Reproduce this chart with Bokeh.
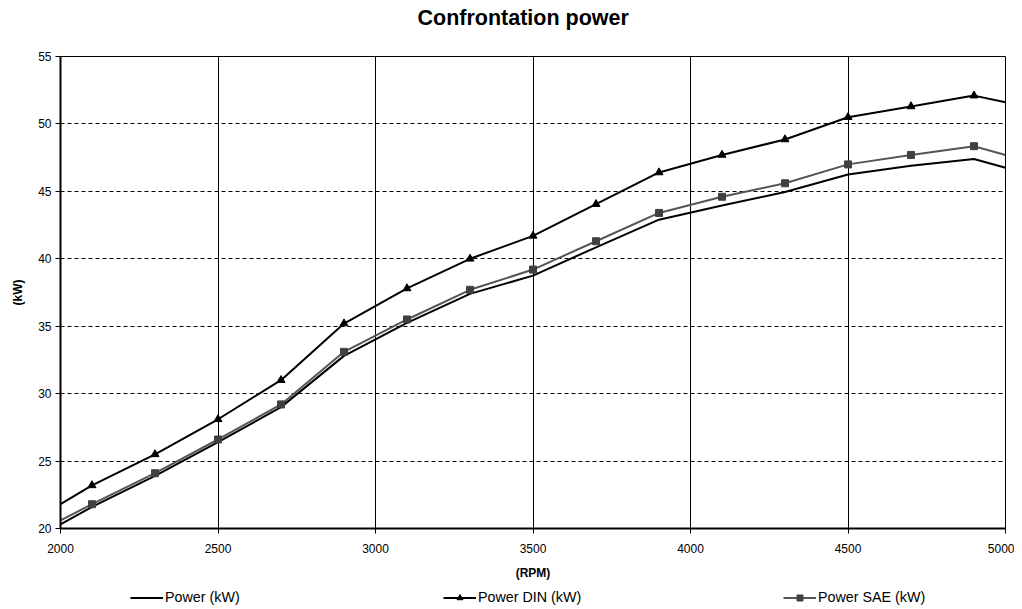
from bokeh.plotting import figure
from bokeh.layouts import column
from bokeh.models import Range1d, SingleIntervalTicker, Legend, LegendItem, Title
from bokeh.embed import file_html
from bokeh.resources import INLINE

rpm = [2000, 2100, 2300, 2500, 2700, 2900, 3100, 3300, 3500, 3700, 3900, 4100, 4300, 4500, 4700, 4900, 5000]
power = [20.3, 21.6, 23.9, 26.4, 29.0, 32.8, 35.25, 37.4, 38.75, 40.85, 42.9, 43.95, 44.95, 46.25, 46.9, 47.4, 46.75]
power_din = [21.8, 23.2, 25.5, 28.1, 31.0, 35.2, 37.8, 40.0, 41.7, 44.05, 46.4, 47.7, 48.85, 50.5, 51.3, 52.1, 51.6]
power_sae = [20.6, 21.8, 24.1, 26.6, 29.2, 33.1, 35.5, 37.7, 39.2, 41.3, 43.4, 44.6, 45.6, 47.0, 47.7, 48.35, 47.7]

labels = ["Power (kW)", "Power DIN (kW)", "Power SAE (kW)"]
title = "Confrontation power"
x_label = "(RPM)"
y_label = "(kW)"

FONT = "Liberation Sans"


def draw_series(fig):
    r_pow = fig.line(rpm, power, line_color="black", line_width=2)
    r_din = fig.line(rpm, power_din, line_color="black", line_width=2)
    m_din = fig.scatter(rpm[1:-1], power_din[1:-1], marker="triangle", size=8,
                        fill_color="black", line_color="black")
    r_sae = fig.line(rpm, power_sae, line_color="#555555", line_width=2)
    m_sae = fig.scatter(rpm[1:-1], power_sae[1:-1], marker="square", size=7,
                        fill_color="#404040", line_color="#404040")
    return [[r_pow], [r_din, m_din], [r_sae, m_sae]]


p = figure(width=1014, height=582, output_backend="svg", toolbar_location=None,
           x_range=Range1d(2000, 5000), y_range=Range1d(20, 55),
           min_border_left=60, min_border_right=9, min_border_top=56, min_border_bottom=54)

# small empty spacer between the frame and the title
p.add_layout(Title(text=" ", text_font_size="1px", standoff=24), "above")

p.title.text = title
p.title.text_font = FONT
p.title.text_font_size = "21.5px"
p.title.text_font_style = "bold"
p.title.align = "left"
p.title.offset = 357
p.title.standoff = 0
p.title.text_color = "black"

p.outline_line_color = "black"
p.outline_line_width = 1

p.xaxis.ticker = SingleIntervalTicker(interval=500)
p.yaxis.ticker = SingleIntervalTicker(interval=5)
for ax in (p.xaxis, p.yaxis):
    ax.axis_line_width = 2
    ax.axis_line_color = "black"
    ax.major_tick_line_color = "black"
    ax.major_tick_out = 5
    ax.major_tick_in = 0
    ax.minor_tick_line_color = None
    ax.major_label_text_font = FONT
    ax.major_label_text_font_size = "12px"
    ax.major_label_text_color = "black"
    ax.axis_label_text_font = FONT
    ax.axis_label_text_font_size = "12px"
    ax.axis_label_text_font_style = "bold"
    ax.axis_label_text_color = "black"
p.xaxis.axis_label = x_label
p.yaxis.axis_label = y_label
p.xaxis.major_label_standoff = 10
p.xaxis.axis_label_standoff = 10
p.yaxis.major_label_standoff = 4
p.yaxis.axis_label_standoff = 10

p.xgrid.ticker = SingleIntervalTicker(interval=500)
p.ygrid.ticker = SingleIntervalTicker(interval=5)
p.xgrid.grid_line_color = "black"
p.xgrid.grid_line_width = 1
p.ygrid.grid_line_color = "black"
p.ygrid.grid_line_width = 1
p.ygrid.grid_line_dash = "4 3"

draw_series(p)

# legend strip below the chart (same series, drawn out of view so only the legend shows)
lf = figure(width=1014, height=27, output_backend="svg", toolbar_location=None,
            x_range=Range1d(0, 1), y_range=Range1d(0, 1),
            min_border_left=0, min_border_right=0, min_border_top=0, min_border_bottom=0)
lf.axis.visible = False
lf.grid.visible = False
lf.outline_line_color = None
groups = draw_series(lf)

positions = [(70, 4), (383, 4), (723, 4)]
for lab, rs, loc in zip(labels, groups, positions):
    lg = Legend(items=[LegendItem(label=lab, renderers=rs)], location=loc,
                orientation="horizontal", background_fill_alpha=0,
                border_line_color=None, padding=0, margin=0,
                glyph_width=33, glyph_height=15, label_height=15, label_standoff=2,
                label_text_font=FONT, label_text_font_size="14.3px",
                label_text_color="black")
    lf.add_layout(lg, "center")

layout = column(p, lf, spacing=0)
open("out.html", "w").write(file_html(layout, INLINE))
